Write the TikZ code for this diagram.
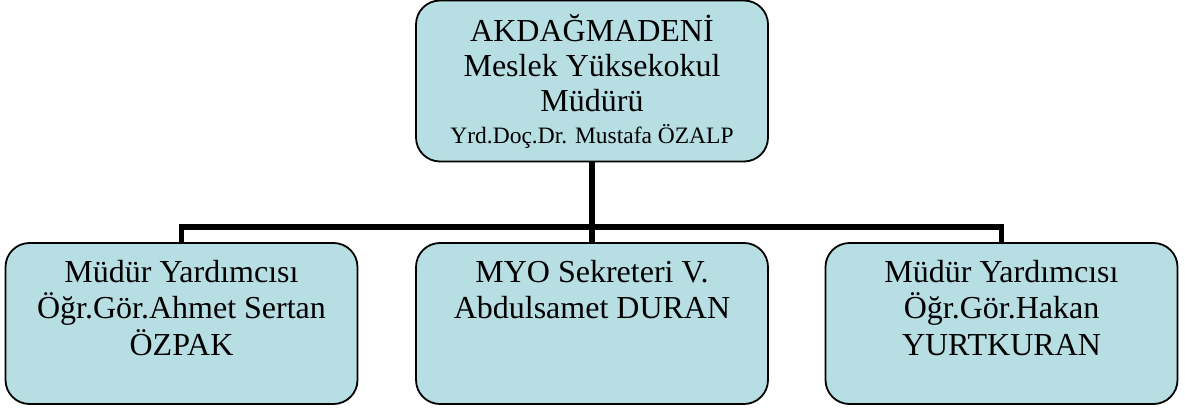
\documentclass[tikz,border=0pt]{standalone}
\usepackage{fontspec}
\setmainfont{Liberation Serif}
\usetikzlibrary{positioning}
\definecolor{boxfill}{RGB}{183,222,227}
\newcommand{\kidtext}[1]{\parbox[c][161pt][t]{350pt}{\centering\vspace{17pt}#1}}

\begin{document}
\begin{tikzpicture}[
  x=1pt, y=-1pt,
  every node/.style={align=center},
  head/.style={rectangle, draw=black, line width=1.8pt, fill=boxfill, rounded corners=24pt,
    minimum width=352pt, minimum height=161pt, inner sep=0pt, font=\fontsize{32}{35}\selectfont},
  kid/.style={head, font=\fontsize{32}{36.5}\selectfont},
  conn/.style={line width=5.5pt, line join=miter}
]
\useasboundingbox (0,0) rectangle (1185,409);

% yonetici
\node[head] (mudur) at (592,81) {AKDAĞMADENİ\\Meslek Yüksekokul\\Müdürü\\[-3pt]
  {\fontsize{23.5}{32}\selectfont Yrd.Doç.Dr. Mustafa ÖZALP}};

% alt birimler
\node[kid] (yard1) at (181.5,323.5) {\kidtext{Müdür Yardımcısı\\Öğr.Gör.Ahmet Sertan\\ÖZPAK}};
\node[kid] (sekreter) at (592,323.5) {\kidtext{MYO Sekreteri V.\\Abdulsamet DURAN}};
\node[kid] (yard2) at (1001.5,323.5) {\kidtext{Müdür Yardımcısı\\Öğr.Gör.Hakan\\YURTKURAN}};

% baglantilar
\draw[conn] (mudur.south) -- (sekreter.north);
\draw[conn] (yard1.north) -- ++(0,-15) -| (yard2.north);

\end{tikzpicture}
\end{document}
